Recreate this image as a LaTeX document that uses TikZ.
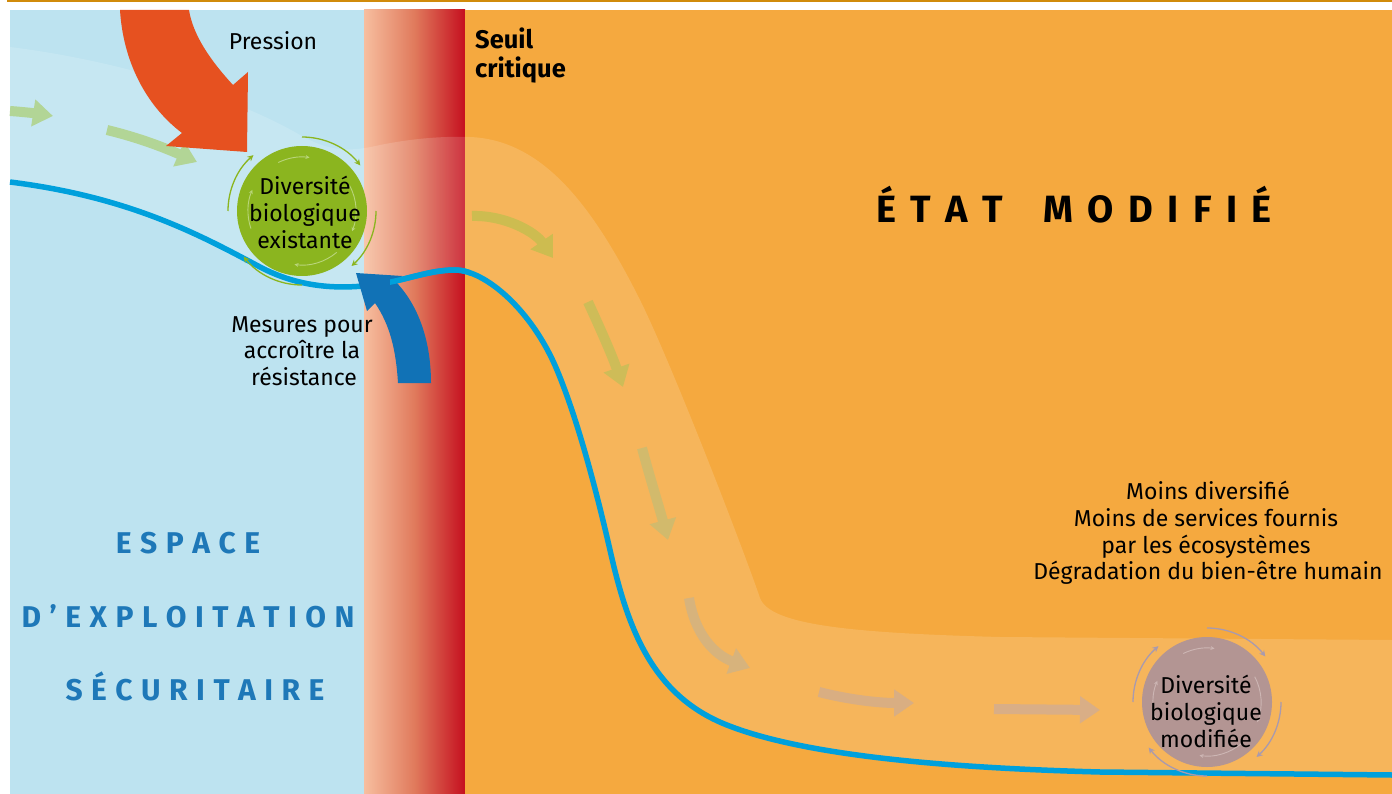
\documentclass[tikz,border=0pt]{standalone}
\usepackage{fontspec}
\setmainfont{Fira Sans}
\usetikzlibrary{arrows.meta}
\definecolor{bgblue}{HTML}{BDE3F0}
\definecolor{bgorange}{HTML}{F5A93F}
\definecolor{lineblue}{HTML}{00A0DC}
\definecolor{pressred}{HTML}{E65120}
\definecolor{mesblue}{HTML}{1172B6}
\definecolor{circgreen}{HTML}{8BB51F}
\definecolor{circpink}{HTML}{B39593}
\definecolor{arcpink}{HTML}{A99AAE}
\definecolor{innergreen}{HTML}{B9D57A}
\definecolor{innerpink}{HTML}{CDB6B4}
\definecolor{lgreen}{HTML}{B2D596}
\definecolor{titleblue}{HTML}{1E78B8}
\definecolor{topline}{HTML}{D18B0B}
\definecolor{olA}{HTML}{CDBC50}
\definecolor{olB}{HTML}{CEBC58}
\definecolor{olC}{HTML}{D2BA6C}
\definecolor{olD}{HTML}{D7B37C}
\definecolor{olE}{HTML}{D9AE82}
\definecolor{olF}{HTML}{D9AE86}
\definecolor{sA}{HTML}{F7BE9F}
\definecolor{sB}{HTML}{E07A5C}
\definecolor{sC}{HTML}{C50F1F}
\pgfdeclarehorizontalshading{seuilshade}{100bp}{color(0bp)=(sA); color(25bp)=(sA); color(50bp)=(sB); color(75bp)=(sC); color(100bp)=(sC)}
\newcommand\lk{\kern 8.5pt}
\newcommand\lkb{\kern 14.5pt}
\def\bluelinepath{(10,182) .. controls (130,197) and (200,235) .. (260,267) .. controls (300,288) and (340,290) .. (380,284) .. controls (410,279) and (430,270) .. (455,270) .. controls (485,270) and (532,310) .. (557,370) .. controls (577,418) and (595,485) .. (610,550) .. controls (627,625) and (650,692) .. (722,723) .. controls (800,756) and (950,768) .. (1100,772) -- (1392,775)}
\begin{document}
\begin{tikzpicture}[x=1pt,y=-1pt,
  body/.style={font=\fontsize{23}{27}\selectfont, inner sep=0pt, anchor=base, text=black},
  boldtxt/.style={font=\fontsize{25.5}{29}\selectfont\bfseries, inner sep=0pt, anchor=base west, text=black},
  spaced/.style={font=\fontsize{30}{36}\selectfont\bfseries, inner sep=0pt, anchor=base, text=titleblue},
  flowarrow/.style={line width=10pt, -{Triangle[length=20pt,width=26pt]}},
  arcarrow/.style={line width=1.3pt, -{Stealth[length=6pt,width=6pt]}},
  innerarc/.style={line width=0.9pt, -{Stealth[length=4pt,width=4pt]}},
  blueline/.style={draw=lineblue, line width=5.5pt}]
\useasboundingbox (0,0) rectangle (1392,794);
% frame
\fill[topline] (7,0) rectangle (1392,2);
\fill[bgblue] (10,10) rectangle (364,794);
\shade[shading=seuilshade] (364,10) rectangle (465,794);
\fill[bgorange] (465,10) rectangle (1392,794);
% light band
\begin{scope}
\clip \bluelinepath -- (1392,0) -- (10,0) -- cycle;
\fill[white, opacity=0.15] (10,47) .. controls (130,62) and (240,100) .. (300,135) .. controls (330,152) and (350,152) .. (380,145) .. controls (410,139) and (440,136) .. (470,137) .. controls (540,140) and (590,200) .. (640,300) .. controls (670,360) and (740,540) .. (760,598) .. controls (770,625) and (850,633) .. (1000,637) -- (1392,640) -- (1392,794) -- (10,794) -- cycle;
\end{scope}
% threshold line
\draw[blueline] \bluelinepath;
% flow arrows
\draw[flowarrow, lgreen] (10,111) .. controls (25,112) and (40,114) .. (53,116);
\draw[flowarrow, lgreen] (107,130) .. controls (140,138) and (165,148) .. (197,162);
\draw[flowarrow, olA] (472,216) .. controls (505,215) and (535,232) .. (553,258);
\draw[flowarrow, olB] (588,302) .. controls (600,328) and (612,355) .. (623,387);
\draw[flowarrow, olC] (642,448) .. controls (650,478) and (660,510) .. (668,540);
\draw[flowarrow, olD] (689,598) .. controls (695,635) and (715,655) .. (750,668);
\draw[flowarrow, olE] (819,692) .. controls (850,700) and (880,703) .. (914,703);
\draw[flowarrow, olF] (994,709) -- (1100,710);
% pressure arrow
\fill[pressred] (120,10) .. controls (123,60) and (145,105) .. (182,133) -- (166,146) -- (247,152) -- (248,72) -- (233,85) .. controls (210,60) and (193,35) .. (189,10) -- cycle;
% resistance arrow
\fill[mesblue] (398,383) .. controls (396,350) and (390,325) .. (375,303) -- (367,311) -- (356,273) -- (402,276) -- (396,282) .. controls (418,305) and (431,340) .. (431,383) -- cycle;
\begin{scope}
\clip (390,250) rectangle (470,300);
\draw[blueline] \bluelinepath;
\end{scope}
% existing biodiversity
\node[circle, fill=circgreen, minimum size=130pt, inner sep=0pt] (gc) at (302,211) {};
\foreach \a/\b in {-90/-38, 0/48, 90/142, -180/-131}
  \draw[arcarrow, circgreen] ([shift={(\a:74)}]gc.center) arc[start angle=\a, end angle=\b, radius=74];
\foreach \a/\b in {-116/-82, -28/22, 50/98, -199/-157}
  \draw[innerarc, innergreen] ([shift={(\a:54)}]gc.center) arc[start angle=\a, end angle=\b, radius=54];
% modified biodiversity
\node[circle, fill=circpink, minimum size=130pt, inner sep=0pt] (pc) at (1207,702) {};
\foreach \a/\b in {-90/-38, 0/48, 90/142, -180/-131}
  \draw[arcarrow, arcpink] ([shift={(\a:74)}]pc.center) arc[start angle=\a, end angle=\b, radius=74];
\foreach \a/\b in {-116/-82, -28/22, 50/98, -199/-157}
  \draw[innerarc, innerpink] ([shift={(\a:54)}]pc.center) arc[start angle=\a, end angle=\b, radius=54];
% texts
\node[body] (pression) at (273,50) {Pression};
\node[boldtxt] (seuil1) at (475,49) {Seuil};
\node[boldtxt] (seuil2) at (475,78) {critique};
\node[body] (g1) at (305,195) {Diversité};
\node[body] (g2) at (305,222) {biologique};
\node[body] (g3) at (305,249) {existante};
\node[body] (m1) at (302,332) {Mesures pour};
\node[body] (m2) at (302,358) {accroître la};
\node[body] (m3) at (304,385) {résistance};
\node[body] (p1) at (1206,693) {Diversité};
\node[body] (p2) at (1206,720) {biologique};
\node[body] (p3) at (1206,747) {modifiée};
\node[body] (d1) at (1208,499) {Moins diversifié};
\node[body] (d2) at (1206,526) {Moins de services fournis};
\node[body] (d3) at (1206,553) {par les écosystèmes};
\node[body] (d4) at (1208,579) {Dégradation du bien-être humain};
\node[font=\fontsize{38}{44}\selectfont\bfseries, inner sep=0pt, anchor=base, text=black] (etat) at (1074,223)
  {É\lkb T\lkb A\lkb T\hspace{40pt}M\lkb O\lkb D\lkb I\lkb F\lkb I\lkb É};
\node[spaced] (e1) at (188,553) {E\lk S\lk P\lk A\lk C\lk E};
\node[spaced] (e2) at (188,627) {D\lk ’\lk E\lk X\lk P\lk L\lk O\lk I\lk T\lk A\lk T\lk I\lk O\lk N};
\node[spaced] (e3) at (195,700) {S\lk É\lk C\lk U\lk R\lk I\lk T\lk A\lk I\lk R\lk E};
\end{tikzpicture}
\end{document}
